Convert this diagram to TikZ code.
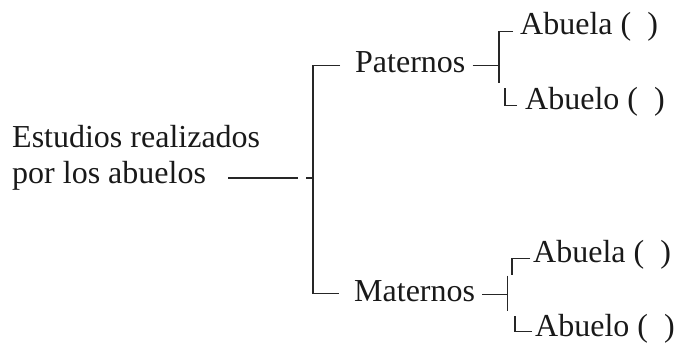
\documentclass[tikz,border=0pt]{standalone}
\usepackage{fontspec}
\setmainfont{Liberation Serif}
\usetikzlibrary{positioning,calc}

\tikzset{
  label/.style={anchor=base west, inner sep=0pt, font=\fontsize{32}{36}\selectfont, text=black!90},
  brace/.style={draw=black!85, line width=1.2pt}
}

\begin{document}
\begin{tikzpicture}[x=1pt, y=-1pt]
    \useasboundingbox (0,0) rectangle (678,347);

    % Root
    \node[label, align=left] (root) at (12,184) {Estudios realizados\\por los abuelos};
    \coordinate (stem) at (228,178);
    \coordinate (hub) at (314,178);

    % Branches
    \node[label] (pat) at (355,73) {Paternos};
    \node[label] (mat) at (354,302) {Maternos};

    % Leaves
    \node[label] (patA) at (520,35) {Abuela (~~)};
    \node[label] (patO) at (525,110) {Abuelo (~~)};
    \node[label] (matA) at (533,263) {Abuela (~~)};
    \node[label] (matO) at (535,337) {Abuelo (~~)};

    % Main bracket
    \draw[brace] (stem) -- ++(70,0);
    \draw[brace] (hub) -- ++(-8,0);
    \draw[brace] ([xshift=-15pt,yshift=-3pt]pat.west) -| ([xshift=-41pt,yshift=-2pt]mat.west) -- ([xshift=-15pt,yshift=-2pt]mat.west);

    % Paternos bracket
    \draw[brace] ([xshift=7pt,yshift=-3pt]pat.east) -- ++(27,0);
    \draw[brace] ([xshift=-7pt,yshift=-4pt]patA.west) -| ++(-14,52);
    \draw[brace] ([xshift=-8pt,yshift=-3pt]patO.west) -| ++(-12,-17);

    % Maternos bracket
    \draw[brace] ([xshift=7pt,yshift=-3pt]mat.east) -- ++(25,0) coordinate (mj);
    \draw[brace] (mj) ++(0,-19) -- ++(0,35);
    \draw[brace] ([xshift=-3pt,yshift=-3pt]matA.west) -| ++(-18,17);
    \draw[brace] ([xshift=-3pt,yshift=-2pt]matO.west) -| ++(-17,-15);
\end{tikzpicture}
\end{document}
